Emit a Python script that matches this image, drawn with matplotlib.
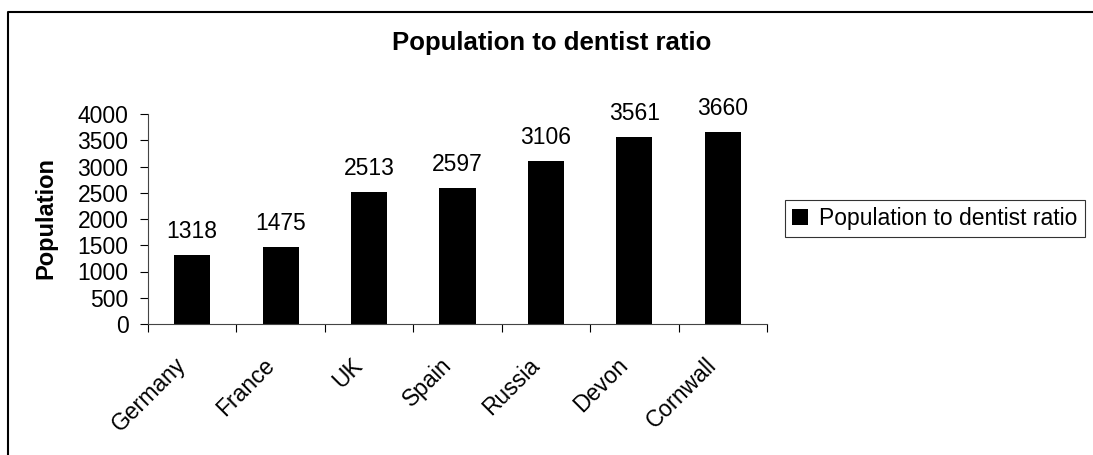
import matplotlib.pyplot as plt
from matplotlib.lines import Line2D

plt.rcParams['font.family'] = ['Liberation Sans', 'DejaVu Sans']

regions = ['Germany', 'France', 'UK', 'Spain', 'Russia', 'Devon', 'Cornwall']
ratio = [1318, 1475, 2513, 2597, 3106, 3561, 3660]
yticks = [0, 500, 1000, 1500, 2000, 2500, 3000, 3500, 4000]

FS = 16.5
W, H = 1093, 455
fig = plt.figure(figsize=(W / 100, H / 100), dpi=100)
ax = fig.add_axes([148 / W, 1 - 324 / H, (767 - 148) / W, (324 - 114) / H])

x = range(len(regions))
bars = ax.bar(x, ratio, width=0.41, color='black', label='Population to dentist ratio')
for xi, v in zip(x, ratio):
    ax.annotate(str(v), (xi, v), xytext=(0, 12), textcoords='offset points',
                ha='center', va='baseline', fontsize=FS)

ax.set_xlim(-0.5, len(regions) - 0.5)
ax.set_ylim(0, 4000)
ax.set_yticks(yticks)
ax.set_yticklabels([str(t) for t in yticks], fontsize=FS)
ax.tick_params(axis='y', length=6, width=0.8, pad=8)

# category ticks sit between bars, labels at bar centres
ax.set_xticks([i - 0.5 for i in range(len(regions) + 1)])
ax.set_xticklabels([])
ax.tick_params(axis='x', length=6, width=0.8)
for xi, name in zip(x, regions):
    ax.text(xi - 0.2, -560, name, rotation=45, ha='right', va='top',
            rotation_mode='anchor', fontsize=FS)

ax.spines['top'].set_visible(False)
ax.spines['right'].set_visible(False)
for s in ('left', 'bottom'):
    ax.spines[s].set_linewidth(0.8)
    ax.spines[s].set_color('#444444')

fig.text(46 / W, 1 - 218 / H, 'Population', rotation=90, ha='center', va='center',
         fontsize=17, fontweight='bold')
fig.text(552 / W, 1 - 43 / H, 'Population to dentist ratio', ha='center', va='center',
         fontsize=18.5, fontweight='bold')

leg = fig.legend(handles=[bars], loc='upper left', bbox_to_anchor=(785 / W, 1 - 200 / H),
                 fontsize=FS, frameon=True, fancybox=False, edgecolor='black',
                 handlelength=0.7, handleheight=0.7, handletextpad=0.5,
                 borderpad=0.3, borderaxespad=0)
leg.get_frame().set_linewidth(0.8)

# outer chart border, open at the right and bottom
fig.add_artist(Line2D([7.5 / W, 7.5 / W, 1], [0, 1 - 11.5 / H, 1 - 11.5 / H],
                      transform=fig.transFigure, color='black', lw=1.5))

fig.savefig('out.png', dpi=100)
